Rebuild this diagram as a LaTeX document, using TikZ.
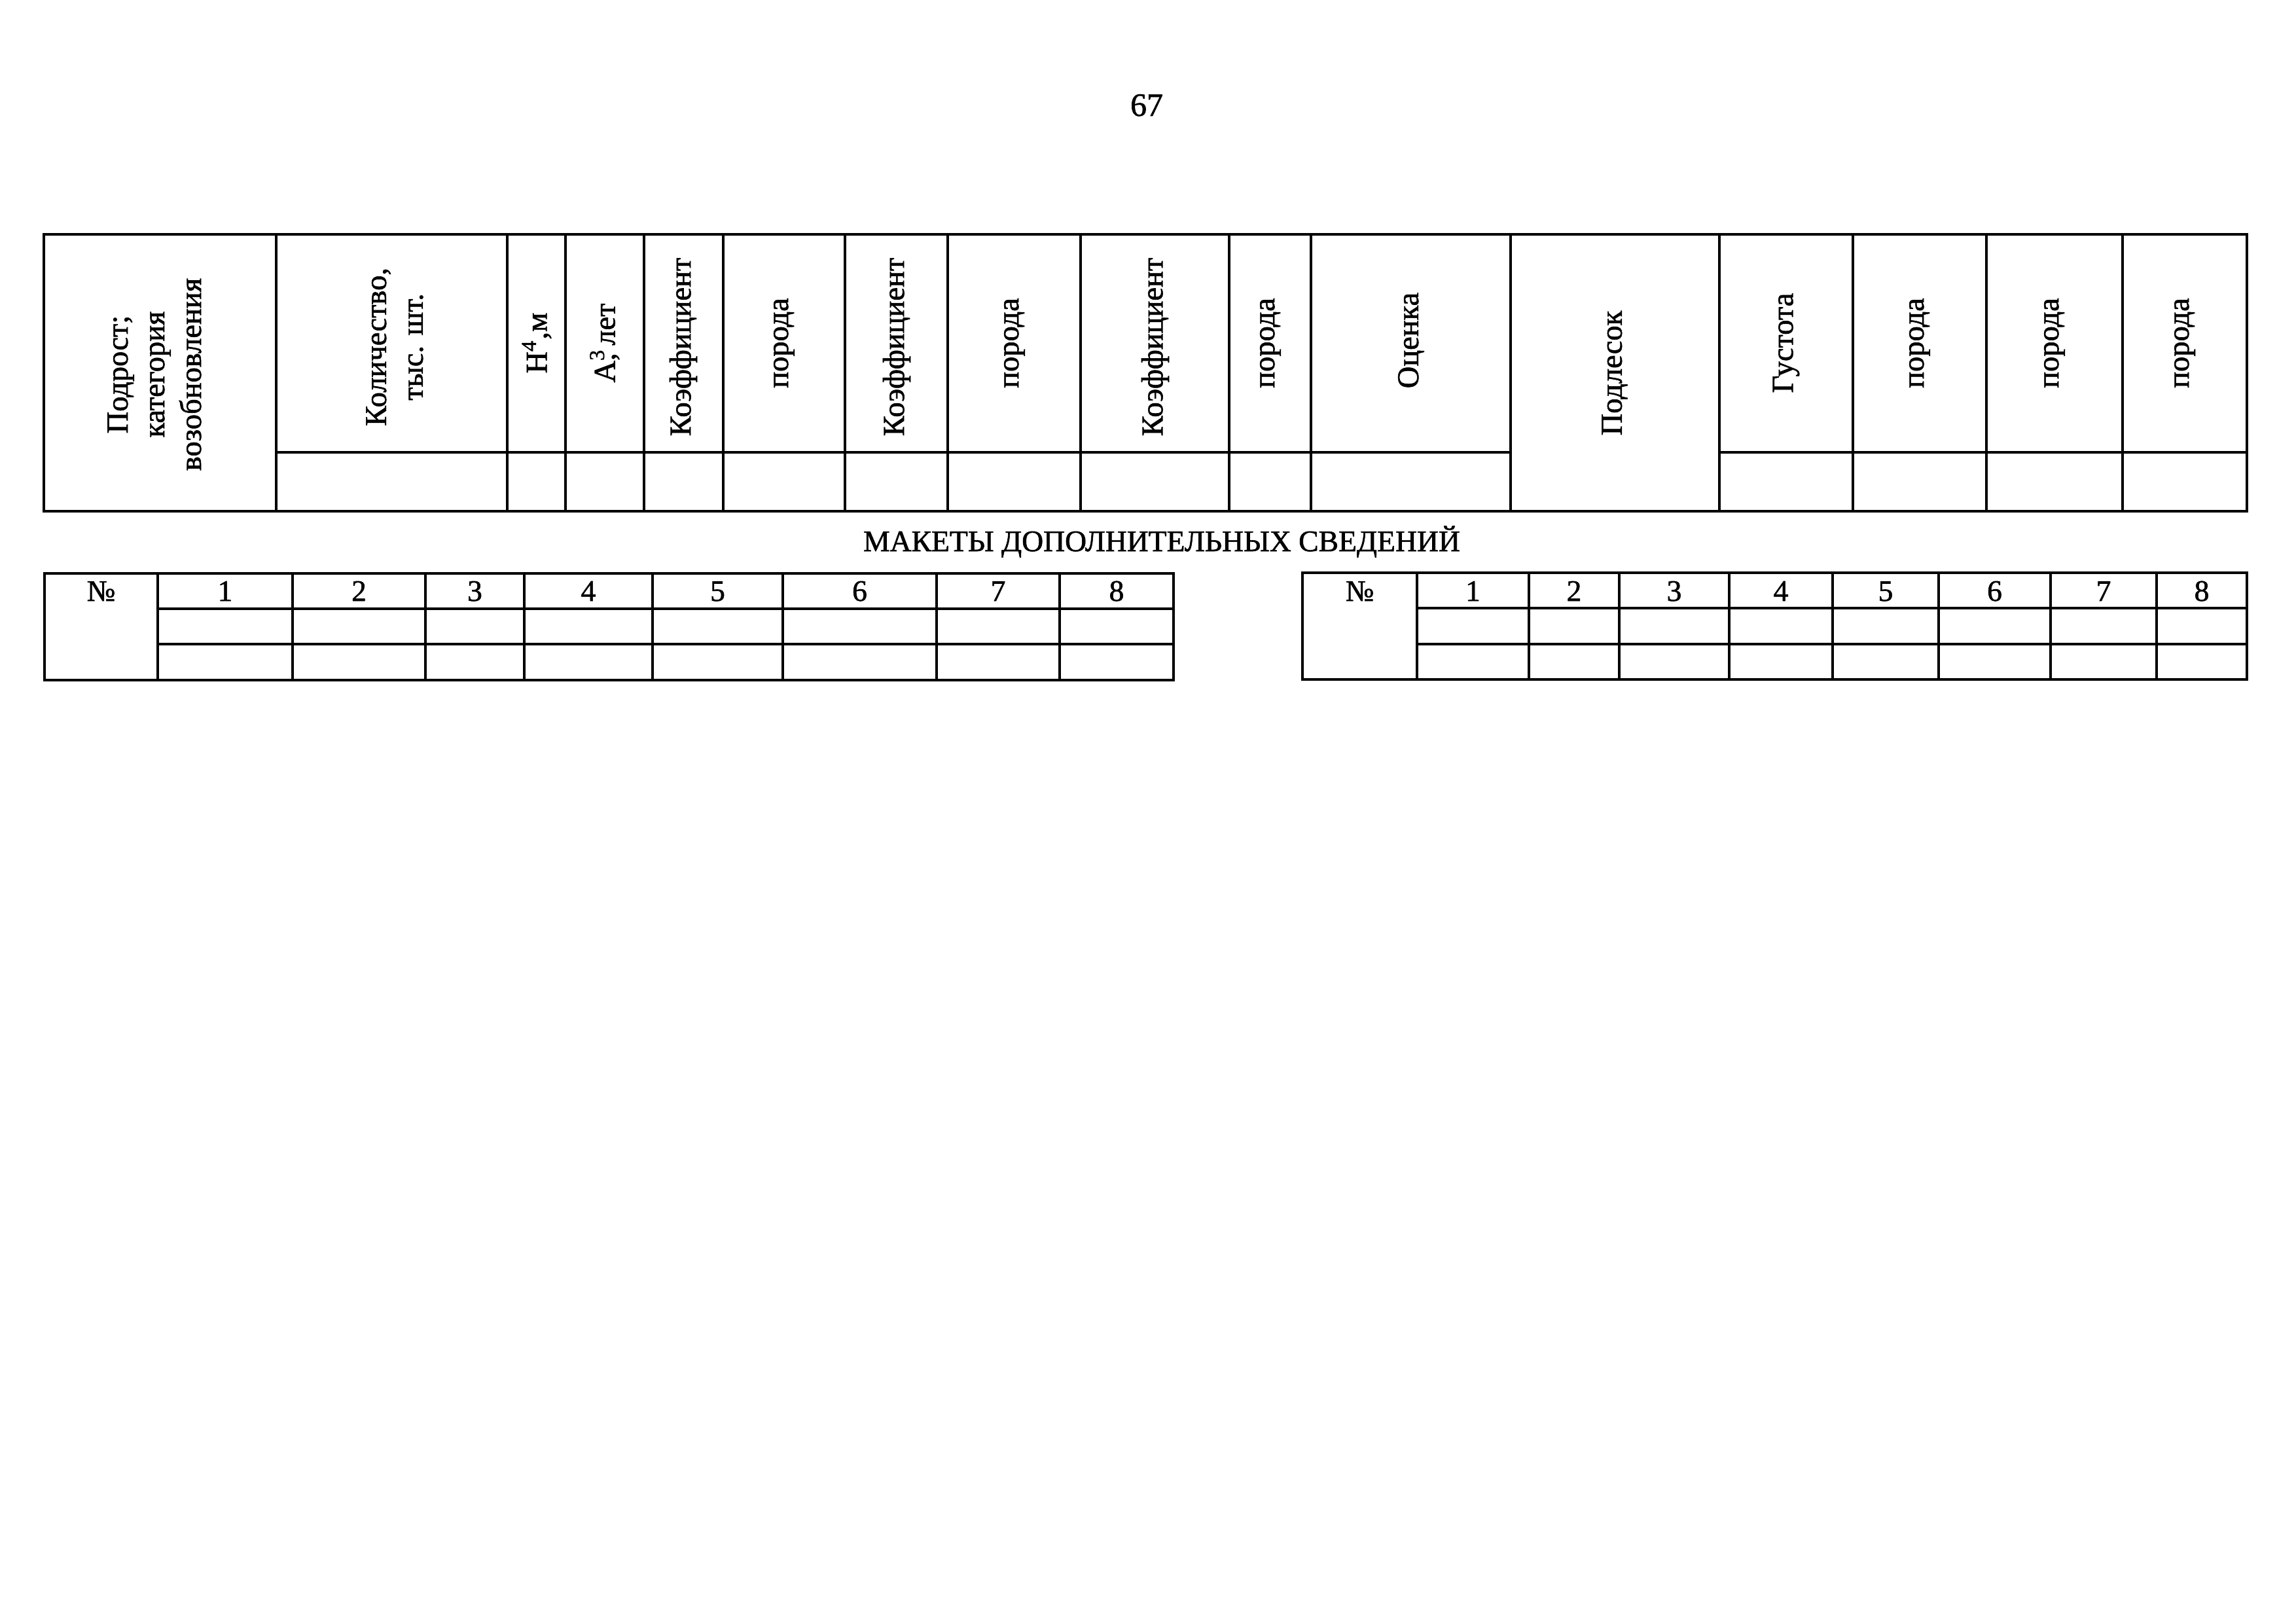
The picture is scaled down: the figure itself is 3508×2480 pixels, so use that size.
\documentclass[tikz,border=0pt]{standalone}
\usepackage{fontspec}
\newfontfamily\tfont{Liberation Serif}[FakeBold=1.3]
\begin{document}
\begin{tikzpicture}[x=0.0084664cm,y=-0.0084664cm,
  tbl/.style={line width=0.9pt},
  hdr/.style={rotate=90, font=\tfont\fontsize{11.2}{13.5}\selectfont, align=center, inner sep=0pt},
  num/.style={anchor=base, font=\tfont\fontsize{11}{13}\selectfont, inner sep=0pt}]
\useasboundingbox[fill=white] (0,0) rectangle (3508,2480);

% page number
\node[anchor=base, font=\tfont\fontsize{12}{14}\selectfont, inner sep=0pt] (pagenum) at (1752,177) {67};

% ===== top table =====
\draw[tbl] (67,358) rectangle (3433,781);
\draw[tbl] (422,691) -- (2308,691);
\draw[tbl] (2627,691) -- (3433,691);
\foreach \x in {422,775,864,984,1105,1291,1448,1651,1878,2003,2308,2627,2831,3035,3243}
  \draw[tbl] (\x,358) -- (\x,781);

\node[hdr] (podrost) at (236,572) {Подрост;\\категория\\возобновления};
\node[hdr] (kolvo) at (603,530) {Количество,\\тыс. шт.};
\node[hdr] (hm) at (820,524) {Н\textsuperscript{4},м};
\node[hdr] (alet) at (924,524) {А\rlap{\textsuperscript{3}}, лет};
\node[hdr] (k1) at (1044,530) {Коэффициент};
\node[hdr] (p1) at (1198,524) {порода};
\node[hdr] (k2) at (1370,530) {Коэффициент};
\node[hdr] (p2) at (1550,524) {порода};
\node[hdr] (k3) at (1765,530) {Коэффициент};
\node[hdr] (p3) at (1941,524) {порода};
\node[hdr] (ocenka) at (2156,520) {Оценка};
\node[hdr] (podlesok) at (2467,570) {Подлесок};
\node[hdr] (gustota) at (2729,524) {Густота};
\node[hdr] (p4) at (2933,524) {порода};
\node[hdr] (p5) at (3139,524) {порода};
\node[hdr] (p6) at (3338,524) {порода};

% ===== title =====
\node[anchor=base, font=\tfont\fontsize{11}{13}\selectfont, inner sep=0pt] (title) at (1775,842) {МАКЕТЫ ДОПОЛНИТЕЛЬНЫХ СВЕДЕНИЙ};

% ===== lower left table =====
\draw[tbl] (68,876) rectangle (1793,1039);
\draw[tbl] (241,930) -- (1793,930);
\draw[tbl] (241,984) -- (1793,984);
\foreach \x in {241,447,650,801,997,1196,1431,1619}
  \draw[tbl] (\x,876) -- (\x,1039);
\node[num] (lno) at (154.5,918) {№};
\foreach \a/\b/\n in {241/447/1,447/650/2,650/801/3,801/997/4,997/1196/5,1196/1431/6,1431/1619/7,1619/1793/8}
  \node[num] (l\n) at ({(\a+\b)/2},918) {\n};

% ===== lower right table =====
\draw[tbl] (1990,875) rectangle (3433,1038);
\draw[tbl] (2165,929) -- (3433,929);
\draw[tbl] (2165,984) -- (3433,984);
\foreach \x in {2165,2336,2474,2642,2800,2962,3133,3295}
  \draw[tbl] (\x,875) -- (\x,1038);
\node[num] (rno) at (2077.5,918) {№};
\foreach \a/\b/\n in {2165/2336/1,2336/2474/2,2474/2642/3,2642/2800/4,2800/2962/5,2962/3133/6,3133/3295/7,3295/3433/8}
  \node[num] (r\n) at ({(\a+\b)/2},918) {\n};
\end{tikzpicture}
\end{document}
